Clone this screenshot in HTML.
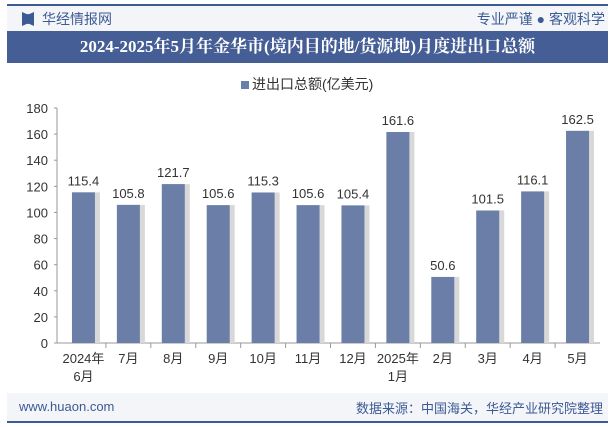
<!DOCTYPE html>
<html><head><meta charset="utf-8"><style>
body{margin:0;width:615px;height:427px;background:#fff;font-family:"Liberation Sans","Noto Sans CJK SC",sans-serif;position:relative;overflow:hidden}
.abs{position:absolute}
</style></head><body>
<div class="abs" style="left:7px;top:4px;width:601px;height:2px;background:#3c5a94"></div>
<div class="abs" style="left:7px;top:6px;width:601px;height:25px;background:#f3f5f9"></div>
<div class="abs" style="left:22px;top:12px;width:12px;height:14px;background:#3c5a94;clip-path:polygon(0 0,40% 15%,60% 15%,100% 0,100% 100%,60% 85%,40% 85%,0 100%)"></div>
<div class="abs" style="left:42px;top:9px;font-size:14px;color:#3c5a94">华经情报网</div>
<div class="abs" style="right:10px;top:9px;font-size:14px;color:#3c5a94">专业严谨 ● 客观科学</div>
<div class="abs" style="left:7px;top:31px;width:601px;height:32px;background:#455e95;color:#fff;font:bold 17px 'Liberation Serif','Noto Serif CJK SC',serif;text-align:center;line-height:32px">2024-2025年5月年金华市(境内目的地/货源地)月度进出口总额</div>
<div class="abs" style="left:241px;top:74px;font-size:14px;color:#333"><span style="display:inline-block;width:8px;height:8px;background:#6a7ea8;margin-right:3px"></span>进出口总额(亿美元)</div>
<svg class="abs" style="left:0;top:0" width="615" height="427" id="chart"></svg>
<div class="abs" style="left:7px;top:393px;width:601px;height:28px;background:#f3f5f9"></div>
<div class="abs" style="left:7px;top:421px;width:601px;height:2px;background:#3c5a94"></div>
<div class="abs" style="left:19px;top:399px;font-size:13px;color:#3c5a94">www.huaon.com</div>
<div class="abs" style="right:12px;top:398px;font-size:13px;color:#3c5a94">数据来源：中国海关，华经产业研究院整理</div>
<script>
const categories=[["2024年","6月"],["7月"],["8月"],["9月"],["10月"],["11月"],["12月"],["2025年","1月"],["2月"],["3月"],["4月"],["5月"]];
const values=[115.4,105.8,121.7,105.6,115.3,105.6,105.4,161.6,50.6,101.5,116.1,162.5];
const ticks=[0,20,40,60,80,100,120,140,160,180];
const svg=document.getElementById('chart');const NS='http://www.w3.org/2000/svg';
const x0=61,x1=600,y0=343,y1=108,yMax=180;
const band=(x1-x0)/categories.length;
const yS=v=>y0-(v/yMax)*(y0-y1);
function mk(t,a){const e=document.createElementNS(NS,t);for(const k in a)e.setAttribute(k,a[k]);svg.appendChild(e);return e;}
const ax=mk('line',{x1:x0-6,y1:y0,x2:x1,y2:y0,stroke:'#999'});


const ay=mk('line',{x1:x0-4,y1:y0,x2:x0-4,y2:y1,stroke:'#999'});


ticks.forEach(t=>{const y=yS(t);
mk('line',{x1:x0-7,y1:y,x2:x0-4,y2:y,stroke:'#999'});
const tx=mk('text',{x:x0-13,y:y+5,'text-anchor':'end','font-size':13,fill:'#333'});tx.textContent=t;

});
categories.forEach((c,i)=>{
 if(i>0)mk('line',{x1:x0+band*i,y1:y0,x2:x0+band*i,y2:y0+5,stroke:'#999'});
 const cx=x0+band*(i+0.5),w=23,v=values[i];
 mk('rect',{x:cx-w/2+2,y:yS(v),width:w+3,height:y0-yS(v),fill:'#d8d8d8'});
 const r=mk('rect',{x:cx-w/2,y:yS(v),width:w,height:y0-yS(v),fill:'#6a7ea8'});
 
 
 const vl=mk('text',{x:cx,y:yS(v)-7,'text-anchor':'middle','font-size':13,fill:'#333'});vl.textContent=v.toFixed(1);
 
 
 c.forEach((s,j)=>{const t=mk('text',{x:cx,y:y0+20+j*18,'text-anchor':'middle','font-size':13,fill:'#333'});t.textContent=s;
 
 });
});
</script>
</body></html>
